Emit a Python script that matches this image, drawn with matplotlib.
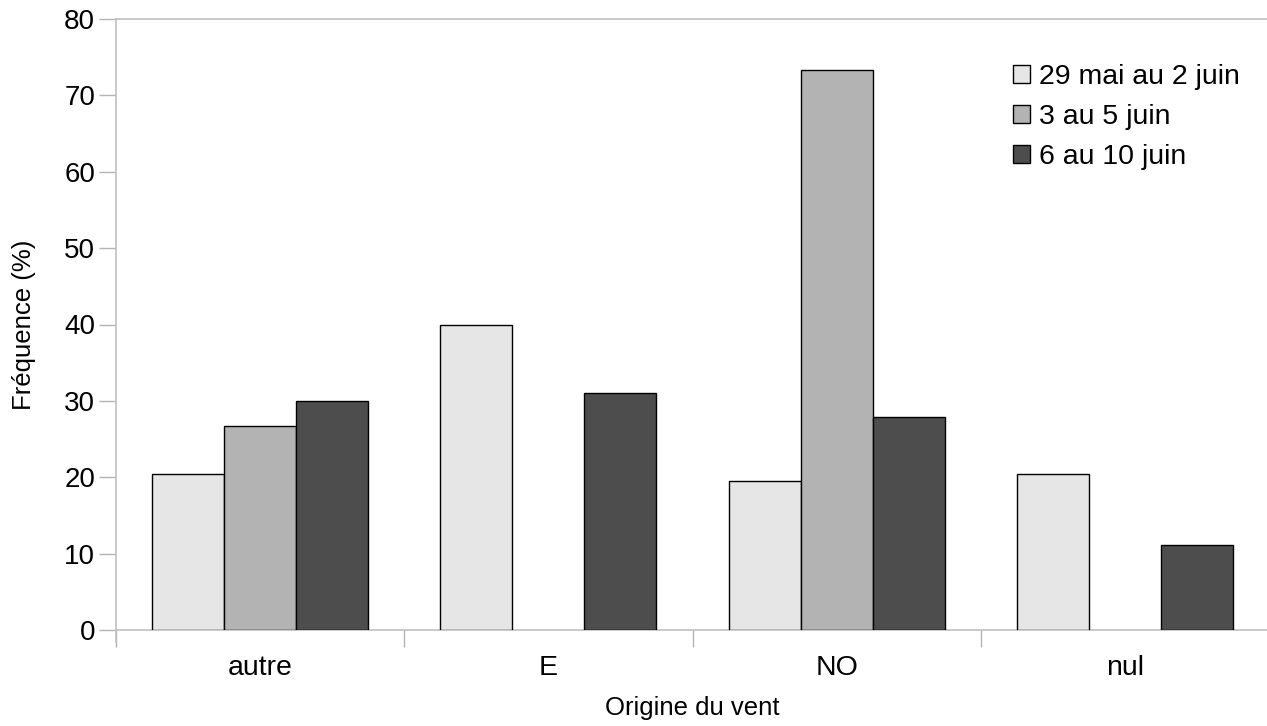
import matplotlib.pyplot as plt
import numpy as np

plt.rcParams['font.family'] = ['Liberation Sans', 'DejaVu Sans']

categories = ['autre', 'E', 'NO', 'nul']
series = ['29 mai au 2 juin', '3 au 5 juin', '6 au 10 juin']
v_mai29 = [20.4, 39.9, 19.5, 20.4]
v_juin3 = [26.7, 0, 73.3, 0]
v_juin6 = [30.0, 31.0, 27.9, 11.1]
colors = ['#e6e6e6', '#b3b3b3', '#4d4d4d']

fig = plt.figure(figsize=(12.67, 7.26), dpi=100)
ax = fig.add_axes([116/1267, 96/726, 1153/1267, 611/726])

x = np.arange(len(categories))
w = 0.25
for i, vals in enumerate([v_mai29, v_juin3, v_juin6]):
    bars = ax.bar(x + (i - 1) * w, vals, w, color=colors[i], edgecolor='black',
                  linewidth=1, label=series[i], zorder=3)
    for b, v in zip(bars, vals):
        if v == 0:
            b.set_linewidth(0)

ax.set_xlim(-0.5, len(categories) - 0.5)
ax.set_ylim(0, 80)
ax.set_yticks(range(0, 81, 10))
ax.set_xticks(x)
ax.set_xticklabels(categories)
ax.set_xticks(np.arange(-0.5, len(categories), 1), minor=True)
ax.tick_params(axis='x', which='major', length=0, pad=18, labelsize=20.5)
ax.tick_params(axis='x', which='minor', length=12, color='#b3b3b3', width=1)
ax.tick_params(axis='y', length=12, color='#b3b3b3', width=1, labelsize=20, pad=3)

for s in ['left', 'bottom', 'top']:
    ax.spines[s].set_color('#c0c0c0')
    ax.spines[s].set_linewidth(1.2)
ax.spines['right'].set_visible(False)
ax.spines['left'].set_bounds(-1.6, 80)
ax.spines['left'].set_clip_on(False)

ax.set_xlabel('Origine du vent', fontsize=18.5, labelpad=11)
ax.set_ylabel('Fréquence (%)', fontsize=18.5, labelpad=20)

ax.legend(loc='upper left', bbox_to_anchor=(1013/1267, 1 - 64/726), bbox_transform=fig.transFigure,
          frameon=False, fontsize=20.5, handlelength=0.6, handleheight=0.6,
          handletextpad=0.3, labelspacing=0.5, borderaxespad=0, borderpad=0)

fig.savefig('out.png', dpi=100)
